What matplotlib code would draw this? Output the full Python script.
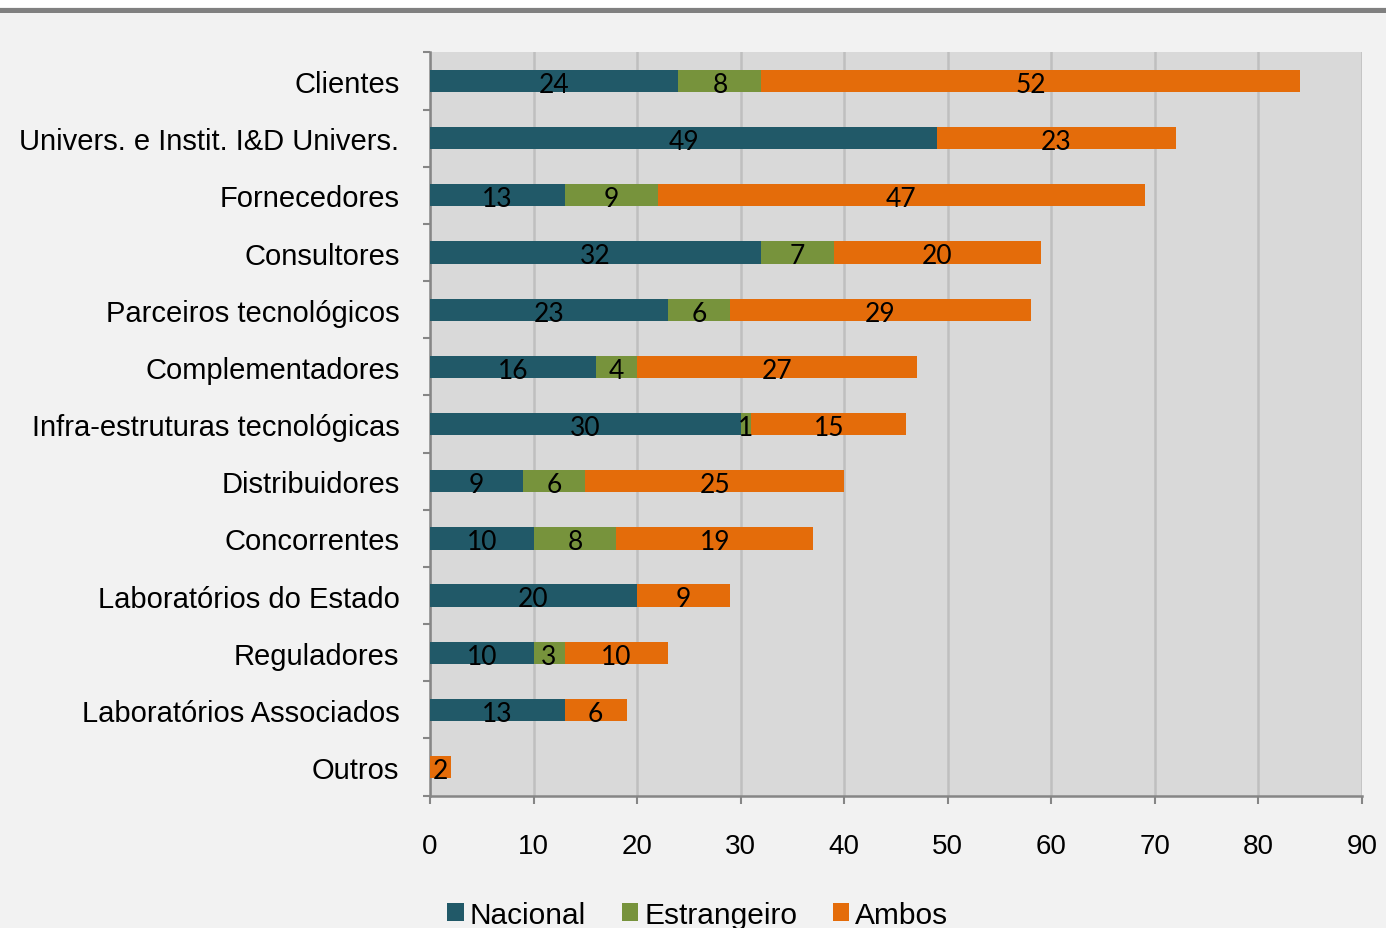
import matplotlib
matplotlib.use("Agg")
import matplotlib.pyplot as plt
from matplotlib.lines import Line2D
from matplotlib.patches import Patch
import numpy as np

categories = [
    "Clientes",
    "Univers. e Instit. I&D Univers.",
    "Fornecedores",
    "Consultores",
    "Parceiros tecnológicos",
    "Complementadores",
    "Infra-estruturas tecnológicas",
    "Distribuidores",
    "Concorrentes",
    "Laboratórios do Estado",
    "Reguladores",
    "Laboratórios Associados",
    "Outros",
]
nacional = [24, 49, 13, 32, 23, 16, 30, 9, 10, 20, 10, 13, 0]
estrangeiro = [8, 0, 9, 7, 6, 4, 1, 6, 8, 0, 3, 0, 0]
ambos = [52, 23, 47, 20, 29, 27, 15, 25, 19, 9, 10, 6, 2]
series_names = ["Nacional", "Estrangeiro", "Ambos"]
series_colors = ["#215968", "#77933c", "#e46c0a"]
x_ticks = [0, 10, 20, 30, 40, 50, 60, 70, 80, 90]

fig = plt.figure(figsize=(13.86, 9.29), dpi=100, facecolor="#f2f2f2")
ax = fig.add_axes([0.3102, 0.1425, 0.6725, 0.8])
ax.set_facecolor("#d9d9d9")

# top rule across the page
fig.patches.append(plt.Rectangle((0, 1 - 8 / 929), 1, 8 / 929, transform=fig.transFigure,
                                 facecolor="white", edgecolor="none", zorder=0))
fig.lines.append(Line2D([0, 1], [1 - 10.5 / 929] * 2, transform=fig.transFigure,
                        color="#808080", linewidth=3.6))

y = np.arange(len(categories))
left = np.zeros(len(categories))
for vals, name, col in zip([nacional, estrangeiro, ambos], series_names, series_colors):
    vals = np.array(vals, dtype=float)
    ax.barh(y, vals, left=left, height=0.39, color=col, edgecolor="none", zorder=3, label=name)
    for yi, (l, v) in enumerate(zip(left, vals)):
        if v > 0:
            ax.annotate(f"{int(v)}", (l + v / 2, yi), xytext=(0, -2.5), textcoords="offset points",
                        ha="center", va="center", fontsize=19, family="Lato",
                        color="black", zorder=4)
    left += vals

ax.set_xlim(0, 90)
ax.set_ylim(len(categories) - 0.5, -0.5)
ax.set_xticks(x_ticks)
ax.set_xticklabels([str(t) for t in x_ticks], fontsize=20, family="Liberation Sans")
ax.xaxis.grid(True, color="#bfbfbf", linewidth=1.8, zorder=0)
ax.set_axisbelow(True)

ax.set_yticks(y)
ax.set_yticklabels(categories, fontsize=21, family="Liberation Sans")
ax.set_yticks(np.arange(-0.5, len(categories)), minor=True)
ax.tick_params(axis="y", which="major", length=0, pad=22)
ax.tick_params(axis="y", which="minor", length=5, width=1.5, color="#868686", direction="out")
ax.tick_params(axis="x", which="major", length=6, width=1.5, color="#868686", direction="out", pad=21)

for s in ["top", "right"]:
    ax.spines[s].set_visible(False)
for s in ["left", "bottom"]:
    ax.spines[s].set_color("#868686")
    ax.spines[s].set_linewidth(1.8)

handles = [Patch(facecolor=c, edgecolor="none", label=n) for n, c in zip(series_names, series_colors)]
fig.legend(handles=handles, loc="center", bbox_to_anchor=(0.5035, 1 - 916 / 929), ncol=3,
           frameon=False, prop={"family": "Liberation Sans", "size": 21.5},
           handlelength=0.55, handleheight=0.55, handletextpad=0.2, columnspacing=1.2)

fig.savefig("out.png", dpi=100, facecolor=fig.get_facecolor())
